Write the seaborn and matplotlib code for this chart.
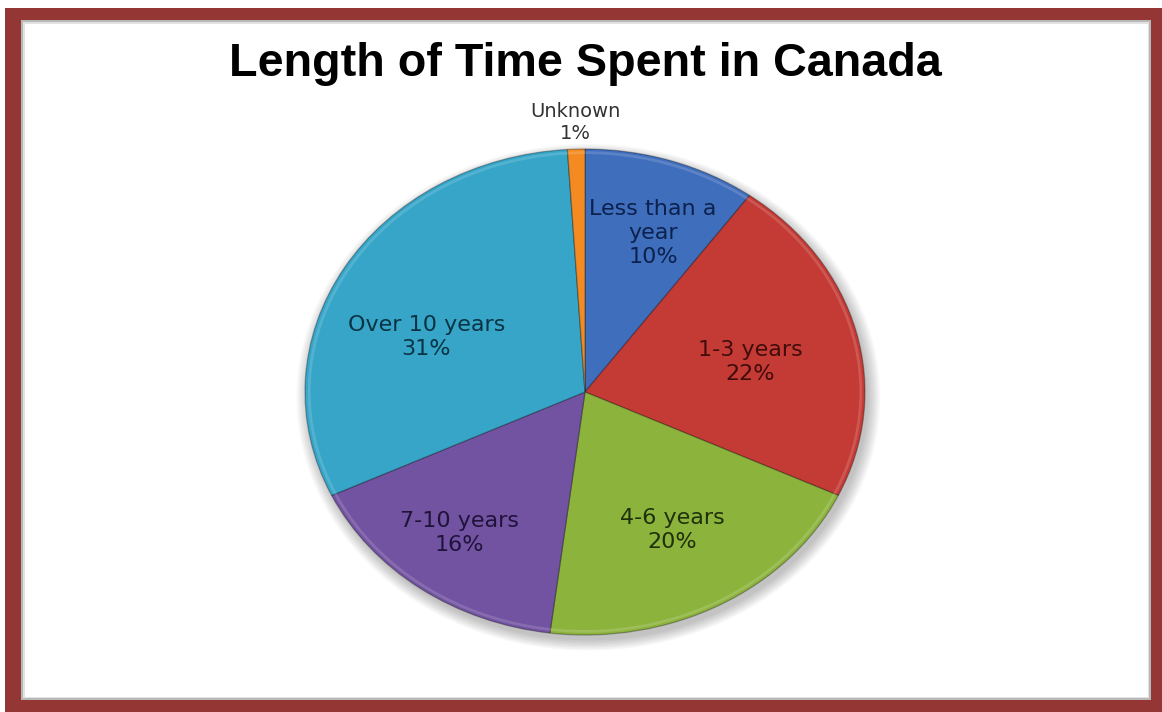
import matplotlib
matplotlib.use("Agg")
import matplotlib.pyplot as plt
import seaborn as sns
import numpy as np
from matplotlib.patches import Rectangle, Ellipse

# Data
categories = ["Less than a\nyear", "1-3 years", "4-6 years", "7-10 years", "Over 10 years", "Unknown"]
shares = [10, 22, 20, 16, 31, 1]
title = "Length of Time Spent in Canada"

# Styling
slice_colors = ["#3F6EBD", "#C43A35", "#8CB33B", "#7253A1", "#36A5C8", "#F38B22"]
label_colors = ["#0C214C", "#420C0A", "#1F300A", "#1F133A", "#0A3344", "#333333"]
label_radius = [0.69, 0.61, 0.65, 0.73, 0.60, 1.11]
label_shift = [(0.03, 0.0), (0.0, -0.03), (0.0, 0.0), (-0.02, 0.01), (-0.05, -0.08), (0.0, 0.0)]
label_size = [16, 16, 16, 16, 16, 14]

sns.set_theme(style="white")
sns.set_palette(slice_colors)
plt.rcParams["font.family"] = ["DejaVu Sans"]

W, H = 1162, 712
fig = plt.figure(figsize=(W / 100, H / 100), dpi=100)
fig.patch.set_facecolor("white")


def rect_px(x0, y0, x1, y1, color):
    fig.patches.append(Rectangle((x0 / W, 1 - y1 / H), (x1 - x0) / W, (y1 - y0) / H,
                                 transform=fig.transFigure, facecolor=color,
                                 edgecolor="none", zorder=-5))


# picture frame: dark red border with a soft grey inner edge
frame = "#943634"
rect_px(21, 20, 1151, 700, "#B8B8B8")
rect_px(23, 22, 1149, 698, "#E2E2E2")
rect_px(25, 24, 1148, 697, "white")
rect_px(5, 8, 1162, 20, frame)
rect_px(5, 700, 1162, 712, frame)
rect_px(5, 8, 21, 712, frame)
rect_px(1151, 8, 1162, 712, frame)

# pie axes: an oval pie, wider than tall
cx, cy, rx, ry = 585, 392, 280, 243
ax = fig.add_axes([(cx - rx) / W, 1 - (cy + ry) / H, 2 * rx / W, 2 * ry / H])
ax.set_zorder(1)

# soft drop shadow under the pie
for k in range(8):
    s = 1.0 + 0.006 * k
    ax.add_patch(Ellipse((0.012, -0.022), 2 * s, 2 * s, facecolor="black",
                         edgecolor="none", alpha=0.03, zorder=0.5, clip_on=False))

wedges, _ = ax.pie(shares, colors=slice_colors, startangle=90, counterclock=False,
                   radius=1.0,
                   wedgeprops=dict(edgecolor=(0, 0, 0, 0.3), linewidth=0.9))
for w in wedges:
    w.set_zorder(2)
    w.set_clip_on(False)

# subtle lighter rim along the outer edge
rim = Ellipse((0, 0), 1.97, 1.97, facecolor="none", edgecolor="white",
              linewidth=2.0, alpha=0.15, zorder=3, clip_on=False)
ax.add_patch(rim)

ax.set_aspect("auto")
ax.set_xlim(-1, 1)
ax.set_ylim(-1, 1)
ax.axis("off")

for w, cat, val, col, r, (dx, dy), fs in zip(wedges, categories, shares, label_colors,
                                               label_radius, label_shift, label_size):
    mid = np.deg2rad((w.theta1 + w.theta2) / 2)
    x = r * np.cos(mid) + dx
    y = r * np.sin(mid) + dy
    ax.text(x, y, f"{cat}\n{val}%", ha="center", va="center", fontsize=fs,
            color=col, linespacing=1.25, zorder=5)

fig.text(cx / W, 1 - 76 / H, title, ha="center", va="baseline", fontsize=33.7,
         fontweight="bold", family=["Liberation Sans", "DejaVu Sans"], color="black")

fig.savefig("out.png", dpi=100, facecolor="white")
